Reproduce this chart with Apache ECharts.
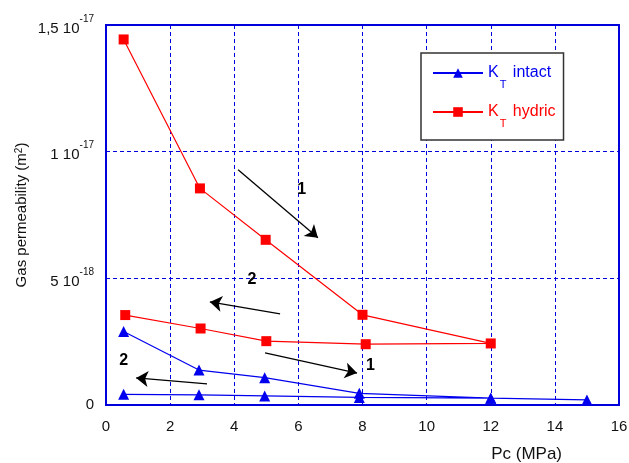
<!DOCTYPE html>
<html>
<head>
<meta charset="utf-8">
<script src="https://cdn.jsdelivr.net/npm/echarts@6/dist/echarts.min.js"></script>
<style>html,body{margin:0;padding:0;background:#fff;}#c{width:629px;height:463px;}</style>
</head>
<body>
<div id="c"></div>
<script>
// values in units of 1e-18 m^2
const intactX = [0.55, 2.9, 4.95, 7.9, 12.0, 15.0, 12.0, 7.9, 4.95, 2.9, 0.55];
const intactY = [2.9, 1.38, 1.08, 0.46, 0.27, 0.2, 0.27, 0.3, 0.36, 0.4, 0.42];
const hydricX = [0.55, 2.93, 4.98, 8.0, 12.0, 8.1, 5.0, 2.95, 0.6];
const hydricY = [14.43, 8.55, 6.52, 3.56, 2.43, 2.4, 2.52, 3.02, 3.55];
const yTickLabels = {0: '0', 5: '{a|5 10}{s|-18}', 10: '{a|1 10}{s|-17}', 15: '{a|1,5 10}{s|-17}'};
const arrowsStart = [[4.12, 9.29], [5.43, 3.6], [4.96, 2.06], [3.15, 0.83]];
const arrowsEnd = [[6.61, 6.6], [3.24, 4.07], [7.83, 1.26], [0.94, 1.07]];
const arrowLabels = [[6.1, 8.5, '1'], [4.55, 4.94, '2'], [8.25, 1.54, '1'], [0.55, 1.74, '2']];

const zip = (xs, ys) => xs.map((x, i) => [x, ys[i]]);
const blue = '#0000ee';
const gridBlue = '#0000dd';
const font = 'Liberation Sans, Arial, sans-serif';

const chart = echarts.init(document.getElementById('c'), null, {renderer: 'canvas'});
chart.setOption({
  animation: false,
  backgroundColor: '#fff',
  grid: {left: 106, right: 10, top: 25, bottom: 58, show: true, borderColor: gridBlue, borderWidth: 2,
    backgroundColor: 'transparent', containLabel: false, outerBoundsMode: 'none'},
  xAxis: {
    type: 'value', min: 0, max: 16, interval: 2,
    name: 'Pc (MPa)', nameLocation: 'end', nameGap: -57, nameMoveOverlap: false,
    nameTextStyle: {fontFamily: font, fontSize: 17, color: '#111', align: 'right', verticalAlign: 'top', padding: [41, 0, 0, 0]},
    axisLine: {show: true, lineStyle: {color: gridBlue, width: 2}},
    axisTick: {show: false},
    axisLabel: {fontFamily: font, fontSize: 15, color: '#111', margin: 14},
    splitLine: {show: true, lineStyle: {color: gridBlue, type: [4, 3], width: 1}}
  },
  yAxis: {
    type: 'value', min: 0, max: 15, interval: 5,
    name: 'Gas permeability (m{s|2})', nameLocation: 'middle', nameGap: 77, nameMoveOverlap: false,
    nameTextStyle: {fontFamily: font, fontSize: 15, color: '#111',
      rich: {s: {fontFamily: font, fontSize: 10, color: '#111', verticalAlign: 'top', lineHeight: 10}}},
    axisLine: {show: true, lineStyle: {color: gridBlue, width: 2}},
    axisTick: {show: false},
    axisLabel: {
      fontFamily: font, fontSize: 15, color: '#111', margin: 12,
      formatter: v => yTickLabels[v] !== undefined ? yTickLabels[v] : '',
      rich: {
        a: {fontFamily: font, fontSize: 15, color: '#111', lineHeight: 22, verticalAlign: 'bottom'},
        s: {fontFamily: font, fontSize: 10, color: '#111', lineHeight: 10, verticalAlign: 'top'}
      }
    },
    splitLine: {show: true, lineStyle: {color: gridBlue, type: [4, 3], width: 1}}
  },
  legend: {
    orient: 'vertical', left: 421, top: 53,
    padding: [12, 8, 11, 11], itemGap: 14,
    itemWidth: 50, itemHeight: 12,
    borderColor: '#333', borderWidth: 1.5, backgroundColor: '#fff',
    data: [
      {name: 'intact', textStyle: {color: blue}},
      {name: 'hydric', textStyle: {color: '#ff0000'}}
    ],
    formatter: name => '{n|K}{t|T}{n| ' + name + '}',
    textStyle: {
      fontFamily: font, fontSize: 16,
      rich: {
        n: {fontFamily: font, fontSize: 16, lineHeight: 34, verticalAlign: 'middle'},
        t: {fontFamily: font, fontSize: 11, lineHeight: 12, verticalAlign: 'bottom', padding: [0, 2, 0, 1]}
      }
    }
  },
  series: [
    {
      name: 'intact', type: 'line', data: zip(intactX, intactY),
      symbol: 'triangle', symbolSize: 11,
      lineStyle: {color: blue, width: 1.2}, itemStyle: {color: blue},
      z: 3
    },
    {
      name: 'hydric', type: 'line', data: zip(hydricX, hydricY),
      symbol: 'rect', symbolSize: 10,
      lineStyle: {color: '#ff0000', width: 1.2}, itemStyle: {color: '#ff0000'},
      z: 4
    },
    {
      name: 'arrows', type: 'line', data: [[0, -1]], symbol: 'none', silent: true,
      lineStyle: {opacity: 0},
      markLine: {
        silent: true, animation: false,
        symbol: ['none', 'arrow'], symbolSize: 12,
        itemStyle: {color: '#000'},
        lineStyle: {color: '#000', width: 1.3, type: 'solid'},
        label: {show: false},
        data: arrowsStart.map((s, i) => [{coord: s}, {coord: arrowsEnd[i]}])
      }
    },
    {
      name: 'labels', type: 'scatter', data: arrowLabels, symbolSize: 1, silent: true,
      itemStyle: {opacity: 0},
      label: {show: true, position: 'inside', formatter: p => p.value[2], fontFamily: font, fontSize: 16, fontWeight: 'bold', color: '#000', opacity: 1}
    }
  ]
});
</script>
</body>
</html>
